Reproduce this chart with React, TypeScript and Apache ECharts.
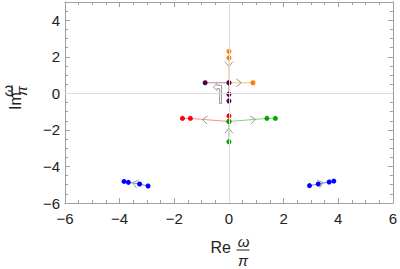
import React, { useEffect, useRef } from "react";
import * as echarts from "echarts";

// ---- data (Re ω/π, Im ω/π) ----
const orangeBranch = [[0, 2.3], [0, 1.94], [0, 0.58], [0.88, 0.58]];
const purpleBranch = [[0, -0.42], [0, -0.05], [0, 0.58], [-0.87, 0.58]];
const redBranch = [[0, -1.23], [0, -1.54], [-1.41, -1.37], [-1.7, -1.37]];
const greenBranch = [[0, -2.65], [0, -1.54], [1.39, -1.37], [1.7, -1.37]];
const blueLeft = [[-2.96, -5.07], [-3.27, -4.96], [-3.68, -4.87], [-3.84, -4.82]];
const blueRight = [[2.95, -5.05], [3.27, -4.96], [3.67, -4.85], [3.84, -4.8]];
// arrow markers: [x, y, direction in degrees]
const arrows = [
  [0, 1.57, -90],
  [0.38, 0.58, 0],
  [-0.9, -1.44, 175],
  [0.9, -1.44, 5],
  [0, -2.02, 90],
  [-3.45, -4.92, 165],
  [3.38, -4.92, 15],
];
// hollow bent arrow outline
const bentArrow = [
  [-0.57, 0.35], [-0.44, 0.54], [-0.44, 0.44], [-0.27, 0.44], [-0.27, -0.56],
  [-0.34, -0.56], [-0.34, 0.26], [-0.44, 0.26], [-0.44, 0.16], [-0.57, 0.35],
];
const xTicks = { min: -6, max: 6, interval: 2 };
const yTicks = { min: -6, max: 5, interval: 2 };

const FRAME = "#a0a0a0";
const LABEL = "#222";
const FONT = "Liberation Sans";

function branch(data: number[][], point: string, line: string) {
  return {
    type: "line",
    data,
    symbol: "circle",
    symbolSize: 5,
    itemStyle: { color: point },
    lineStyle: { color: line, width: 1 },
    z: 3,
  };
}

export default function App() {
  const ref = useRef<HTMLDivElement>(null);
  useEffect(() => {
    const chart = echarts.init(ref.current!, undefined, { renderer: "svg" });
    const axisCommon = {
      type: "value",
      interval: 2,
      axisLine: { show: true, onZero: false, lineStyle: { color: FRAME, width: 1 } },
      axisTick: { show: true, inside: true, length: 5, lineStyle: { color: FRAME } },
      minorTick: { show: true, splitNumber: 4, length: 3, lineStyle: { color: FRAME } },
      splitLine: { show: false },
    };
    const R = Math.PI / 2;
    chart.setOption({
      animation: false,
      grid: { left: 65, right: 5, top: 2, bottom: 66, containLabel: false },
      xAxis: [
        {
          ...axisCommon,
          ...xTicks,
          position: "bottom",
          axisLabel: {
            color: LABEL, fontSize: 15, fontFamily: FONT, margin: 8,
            formatter: (v: number) => (v < 0 ? "\u2212" + -v : String(v)),
          },
        },
        { ...axisCommon, ...xTicks, position: "top", axisLabel: { show: false } },
      ],
      yAxis: [
        {
          ...axisCommon,
          ...yTicks,
          position: "left",
          axisLabel: {
            color: LABEL, fontSize: 15, fontFamily: FONT, margin: 5, showMaxLabel: false,
            formatter: (v: number) => (v < 0 ? "\u2212" + -v : String(v)),
          },
        },
        { ...axisCommon, ...yTicks, position: "right", axisLabel: { show: false } },
      ],
      series: [
        {
          type: "line",
          data: [],
          markLine: {
            silent: true,
            symbol: "none",
            label: { show: false },
            lineStyle: { color: "#dcdcdc", type: "solid", width: 1 },
            data: [{ xAxis: 0 }, { yAxis: 0 }],
          },
          z: 1,
        },
        {
          type: "line",
          data: bentArrow,
          symbol: "none",
          lineStyle: { color: "#999", width: 1 },
          z: 2,
        },
        {
          type: "custom",
          data: arrows,
          encode: { x: 0, y: 1 },
          z: 4,
          renderItem: (params: any, api: any) => {
            const p = api.coord([api.value(0), api.value(1)]);
            const a = (api.value(2) * Math.PI) / 180;
            const dx = Math.cos(a), dy = -Math.sin(a);
            const nx = -dy, ny = dx;
            const pts = [
              [p[0] - dx * 3 + nx * 4, p[1] - dy * 3 + ny * 4],
              [p[0] + dx * 2, p[1] + dy * 2],
              [p[0] - dx * 3 - nx * 4, p[1] - dy * 3 - ny * 4],
            ];
            return {
              type: "polyline",
              shape: { points: pts },
              style: { stroke: "#999", fill: null, lineWidth: 1 },
            };
          },
        },
        branch(orangeBranch, "#ff8000", "#ffbf80"),
        branch(purpleBranch, "#500050", "#b088b0"),
        branch(redBranch, "#ff0000", "#ff8c8c"),
        branch(greenBranch, "#00a800", "#88d088"),
        branch(blueLeft, "#0000ff", "#8080ff"),
        branch(blueRight, "#0000ff", "#8080ff"),
      ],
      graphic: [
        // x axis label: Re ω/π
        { type: "text", x: 231, y: 255, style: { text: "Re", fontSize: 16, fontFamily: FONT, fill: LABEL, align: "right", verticalAlign: "bottom" } },
        { type: "text", x: 243.5, y: 241, style: { text: "ω", fontSize: 15, fontStyle: "italic", fontFamily: FONT, fill: LABEL, align: "center", verticalAlign: "middle" } },
        { type: "line", shape: { x1: 236.5, y1: 250, x2: 249.5, y2: 250 }, style: { stroke: LABEL, lineWidth: 1 } },
        { type: "text", x: 243, y: 260.5, style: { text: "π", fontSize: 15, fontStyle: "italic", fontFamily: FONT, fill: LABEL, align: "center", verticalAlign: "middle" } },
        // y axis label: Im ω/π (rotated)
        { type: "text", x: 23, y: 110, rotation: R, style: { text: "Im", fontSize: 16, fontFamily: FONT, fill: LABEL, align: "left", verticalAlign: "bottom" } },
        { type: "text", x: 7, y: 91, rotation: R, style: { text: "ω", fontSize: 15, fontStyle: "italic", fontFamily: FONT, fill: LABEL, align: "center", verticalAlign: "middle" } },
        { type: "line", shape: { x1: 12, y1: 85, x2: 12, y2: 97 }, style: { stroke: LABEL, lineWidth: 1 } },
        { type: "text", x: 21, y: 91, rotation: R, style: { text: "π", fontSize: 15, fontStyle: "italic", fontFamily: FONT, fill: LABEL, align: "center", verticalAlign: "middle" } },
      ],
    });
    return () => chart.dispose();
  }, []);
  return (
    <div
      ref={ref}
      style={{ position: "fixed", left: 0, top: 0, width: 400, height: 269, background: "#fff" }}
    />
  );
}
